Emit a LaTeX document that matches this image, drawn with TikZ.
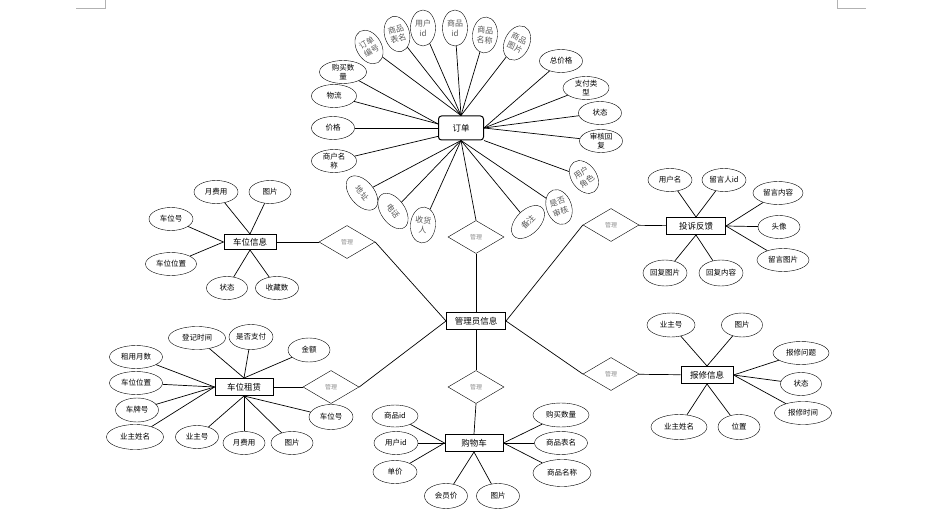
\documentclass[tikz,border=0pt]{standalone}
\usepackage{fontspec}
\setmainfont{Noto Sans CJK SC}
\usetikzlibrary{shapes.geometric}

\begin{document}
\begin{tikzpicture}[x=1pt,y=-1pt,
  ent/.style={draw,line width=1pt,fill=white,minimum width=#1,minimum height=17pt,inner sep=0pt,font=\fontsize{8.5}{10}\selectfont},
  ent/.default=58pt,
  ord/.style={draw,line width=1pt,rounded corners=3pt,fill=white,minimum width=45pt,minimum height=24pt,inner sep=0pt,font=\fontsize{8.5}{10}\selectfont},
  attr/.style={draw,ellipse,minimum width=#1,minimum height=23pt,inner sep=0pt,align=center,font=\fontsize{7.5}{9}\selectfont},
  attr/.default=43pt,
  tilt/.style={draw,ellipse,minimum width=25pt,minimum height=36pt,inner sep=0pt,align=center,text=black!65,font=\fontsize{8}{10}\selectfont,rotate=#1},
  tilt/.default=0,
  flat/.style={minimum width=40pt,minimum height=24pt},
  rel/.style={draw,diamond,minimum width=56pt,minimum height=33pt,inner sep=0pt,text=black!45,font=\fontsize{6}{7}\selectfont},
  link/.style={line width=0.7pt}]
  \useasboundingbox (0,0) rectangle (940,516);
  % page corner marks
  \draw[black!30,line width=0.6pt] (76,8) -- (105,8) -- (105,0);
  \draw[black!30,line width=0.6pt] (837,0) -- (837,8) -- (866,8);

  % centre: admin and order
  \node[ent=59pt] (admin) at (476,321) {管理员信息};
  \node[rel] (r1) at (476,237) {管理};
  \node[ord] (order) at (461,128) {订单};
  \node[attr=47pt] (o1) at (343,72) {购买数\\量};
  \node[attr=45pt] (o2) at (334,96) {物流};
  \node[attr] (o3) at (333,128) {价格};
  \node[attr=45pt] (o4) at (334,161) {商户名\\称};
  \node[tilt=30] (o5) at (369,47) {订单\\编号};
  \node[tilt=15] (o6) at (397,34) {商品\\表名};
  \node[tilt] (o7) at (423,28) {用户\\id};
  \node[tilt] (o8) at (455,28) {商品\\id};
  \node[tilt=-5] (o9) at (485,35) {商品\\名称};
  \node[tilt=-25] (o10) at (517,43) {商品\\图片};
  \node[attr] (o11) at (561,61) {总价格};
  \node[attr=46pt] (o12) at (586,88) {支付类\\型};
  \node[attr] (o13) at (600,113) {状态};
  \node[attr] (o14) at (601,141) {审核回\\复};
  \node[tilt=35] (o15) at (584,177) {用户\\角色};
  \node[tilt=20] (o16) at (559,207) {是否\\审核};
  \node[tilt=45,flat] (o17) at (528,222) {备注};
  \node[tilt=-5] (o18) at (423,225) {收货\\人};
  \node[tilt=-55,flat] (o19) at (393,211) {电话};
  \node[tilt=-50,flat] (o20) at (362,193) {地址};
  \foreach \a in {o5,o6,o7,o8,o9,o10}
    \draw[link] (\a) -- (order.north);
  \foreach \a in {o1,o2}
    \draw[link] (\a) -- (order.170);
  \draw[link] (o3) -- (order.west);
  \draw[link] (o4) -- (order.200);
  \foreach \a in {o11,o12,o13,o14}
    \draw[link] (\a) -- (order.east);
  \draw[link] (o15) -- (order.south east);
  \foreach \a in {o16,o17,o18,o19,o20}
    \draw[link] (\a) -- (order.south);
  \draw[link] (r1.north) -- (order.south);
  \draw[link] (admin.north) -- (r1.south);

  % parking space info
  \node[ent=52pt,minimum height=15pt] (park) at (250,242) {车位信息};
  \node[rel] (r2) at (347,242) {管理};
  \node[attr=44pt] (p1) at (216,192) {月费用};
  \node[attr=42pt] (p2) at (270,192) {图片};
  \node[attr=44pt] (p3) at (171,219) {车位号};
  \node[attr=51pt] (p4) at (171,264) {车位位置};
  \node[attr=41pt] (p5) at (227,288) {状态};
  \node[attr=43pt] (p6) at (277,288) {收藏数};
  \foreach \a in {p1,p2}
    \draw[link] (\a) -- (park.north);
  \foreach \a in {p3,p4}
    \draw[link] (\a) -- (park.west);
  \foreach \a in {p5,p6}
    \draw[link] (\a) -- (park.south);
  \draw[link] (park) -- (r2);
  \draw[link] (r2.east) -- (admin.west);

  % complaint feedback
  \node[ent=59pt] (fb) at (696,226) {投诉反馈};
  \node[rel] (r3) at (611,225) {管理};
  \node[attr=44pt] (f1) at (670,180) {用户名};
  \node[attr=44pt] (f2) at (724,180) {留言人id};
  \node[attr=50pt] (f3) at (778,193) {留言内容};
  \node[attr=42pt] (f4) at (779,227) {头像};
  \node[attr=52pt] (f5) at (783,260) {留言图片};
  \node[attr=44pt,minimum height=26pt] (f6) at (665,273) {回复图片};
  \node[attr=44pt,minimum height=26pt] (f7) at (721,273) {回复内容};
  \foreach \a in {f1,f2}
    \draw[link] (\a) -- (fb.north);
  \foreach \a in {f3,f4,f5}
    \draw[link] (\a) -- (fb.east);
  \foreach \a in {f6,f7}
    \draw[link] (\a) -- (fb.south);
  \draw[link] (fb) -- (r3);
  \draw[link] (r3.west) -- (admin.east);

  % parking rental
  \node[ent] (rent) at (244,387) {车位租赁};
  \node[rel] (r4) at (331,387) {管理};
  \node[attr=57pt] (t1) at (197,338) {登记时间};
  \node[attr=44pt,minimum height=25pt] (t2) at (251,337) {是否支付};
  \node[attr=42pt,minimum height=24pt] (t3) at (309,350) {金额};
  \node[attr=53pt] (t4) at (136,357) {租用月数};
  \node[attr=53pt] (t5) at (136,383) {车位位置};
  \node[attr=43pt,minimum height=24pt] (t6) at (137,410) {车牌号};
  \node[attr=57pt,minimum height=25pt] (t7) at (135,437) {业主姓名};
  \node[attr=43pt] (t8) at (197,437) {业主号};
  \node[attr=42pt] (t9) at (244,443) {月费用};
  \node[attr=42pt] (t10) at (292,443) {图片};
  \node[attr=44pt,minimum height=25pt] (t11) at (331,417) {车位号};
  \foreach \a in {t1,t2,t3}
    \draw[link] (\a) -- (rent.north);
  \foreach \a in {t4,t5,t6,t7}
    \draw[link] (\a) -- (rent.west);
  \foreach \a in {t8,t9,t10,t11}
    \draw[link] (\a) -- (rent.south);
  \draw[link] (rent) -- (r4);
  \draw[link] (r4.east) -- (admin.west);

  % repair info
  \node[ent=52pt] (fix) at (707,375) {报修信息};
  \node[rel] (r5) at (611,374) {管理};
  \node[attr=48pt,minimum height=24pt] (x1) at (671,325) {业主号};
  \node[attr=41pt,minimum height=24pt] (x2) at (742,325) {图片};
  \node[attr=56pt] (x3) at (801,353) {报修问题};
  \node[attr=41pt] (x4) at (801,384) {状态};
  \node[attr=57pt] (x5) at (803,413) {报修时间};
  \node[attr=56pt,minimum height=25pt] (x6) at (679,427) {业主姓名};
  \node[attr=42pt,minimum height=25pt] (x7) at (739,427) {位置};
  \foreach \a in {x1,x2}
    \draw[link] (\a) -- (fix.north);
  \foreach \a in {x3,x4,x5}
    \draw[link] (\a) -- (fix.east);
  \foreach \a in {x6,x7}
    \draw[link] (\a) -- (fix.south);
  \draw[link] (fix) -- (r5);
  \draw[link] (r5.west) -- (admin.east);

  % shopping cart
  \node[ent] (cart) at (474,443) {购物车};
  \node[rel] (r6) at (476,387) {管理};
  \node[attr=46pt,minimum height=22pt] (c1) at (395,416) {商品id};
  \node[attr=44pt] (c2) at (396,443) {用户id};
  \node[attr=44pt] (c3) at (395,472) {单价};
  \node[attr=43pt,minimum height=25pt] (c4) at (446,496) {会员价};
  \node[attr=43pt,minimum height=25pt] (c5) at (498,496) {图片};
  \node[attr=56pt,minimum height=24pt] (c6) at (561,415) {购买数量};
  \node[attr=53pt] (c7) at (561,443) {商品表名};
  \node[attr=58pt,minimum height=27pt] (c8) at (562,473) {商品名称};
  \foreach \a in {c1,c2,c3}
    \draw[link] (\a) -- (cart.west);
  \foreach \a in {c4,c5}
    \draw[link] (\a) -- (cart.south);
  \foreach \a in {c6,c7,c8}
    \draw[link] (\a) -- (cart.east);
  \draw[link] (admin.south) -- (r6.north);
  \draw[link] (r6.south) -- (cart.north);
\end{tikzpicture}
\end{document}
